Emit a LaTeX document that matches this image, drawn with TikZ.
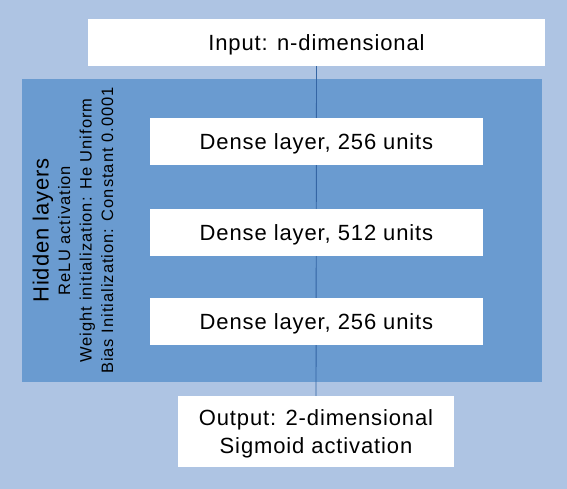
\documentclass[tikz,border=0pt]{standalone}
\usepackage{fontspec}
\setmainfont{Liberation Sans}
\newfontfamily\bigfont[LetterSpace=4]{Liberation Sans}
\newfontfamily\smallfont[LetterSpace=6]{Liberation Sans}
\definecolor{bglight}{HTML}{AEC4E3}
\definecolor{hiddenblue}{HTML}{6A9BD0}
\definecolor{linkblue}{HTML}{3465A4}
\tikzset{
  whitebox/.style={fill=white, draw=none, inner sep=0pt, align=center, text depth=0pt, font=\bigfont\fontsize{22bp}{27.3bp}\selectfont},
  sidebig/.style={rotate=90, anchor=base, inner sep=0pt, font=\bigfont\fontsize{22bp}{24bp}\selectfont},
  sidesmall/.style={rotate=90, anchor=base, inner sep=0pt, font=\smallfont\fontsize{16.5bp}{20bp}\selectfont},
  link/.style={draw=linkblue, line width=0.9bp}
}
\begin{document}
\begin{tikzpicture}[x=1bp,y=-1bp]
\fill[bglight] (0,0) rectangle (567,489);
\useasboundingbox (0,0) rectangle (567,489);
\fill[hiddenblue] (22,79) rectangle (542,382);
\node[minimum width=457bp, minimum height=47bp, inner sep=0pt] (in) at (316.5,42.5) {};
\node[minimum width=276bp, minimum height=71bp, inner sep=0pt] (out) at (316,431.5) {};
\draw[link] (in.south) -- (out.north);
\node[whitebox, minimum width=457bp, minimum height=47bp] at (in) {Input: n-dimensional};
\node[whitebox, minimum width=333bp, minimum height=47bp] (d1) at (316.5,141.5) {Dense layer, 256 units};
\node[whitebox, minimum width=333bp, minimum height=47bp] (d2) at (316.5,232.5) {Dense layer, 512 units};
\node[whitebox, minimum width=333bp, minimum height=47bp] (d3) at (316.5,321.5) {Dense layer, 256 units};
\node[whitebox, minimum width=276bp, minimum height=71bp] at (out) {Output: 2-dimensional\\Sigmoid activation};
\node[sidebig] (h1) at (48.5,230.5) {Hidden layers};
\node[sidesmall] (h2) at (70,230.5) {ReLU activation};
\node[sidesmall] (h3) at (91.5,230.5) {Weight initialization: He Uniform};
\node[sidesmall] (h4) at (113,230.5) {Bias Initialization: Constant 0.0001};
\end{tikzpicture}
\end{document}
